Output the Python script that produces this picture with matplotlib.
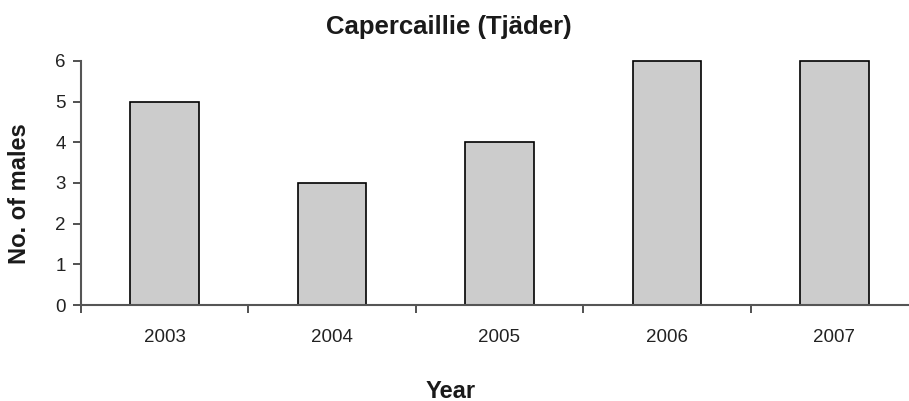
import matplotlib.pyplot as plt
import numpy as np

plt.rcParams['font.family'] = ['Liberation Sans', 'DejaVu Sans']

years = ["2003", "2004", "2005", "2006", "2007"]
males = [5, 3, 4, 6, 6]

fig = plt.figure(figsize=(9.09, 4.01), dpi=100)
# axes runs a bit past the right edge, like the original
ax = fig.add_axes([0.0891, 0.2394, 0.9208, 0.6085])

x = np.arange(len(years))
bars = ax.bar(x, males, width=0.41, color="#cccccc", edgecolor="black", linewidth=1.2)
for b in bars:
    b.set_clip_on(False)

ax.set_xlim(-0.5, len(years) - 0.5)
ax.set_ylim(0, 6)
ax.set_yticks(range(0, 7))

ax.set_xticks(x)
ax.set_xticklabels(years)
ax.set_xticks(np.arange(-0.5, len(years)), minor=True)
ax.tick_params(axis="x", which="major", length=0, pad=17.5, labelsize=13.5, colors="#222222")
ax.tick_params(axis="x", which="minor", length=6, width=1.2, direction="out", color="#333333")
ax.tick_params(axis="y", length=6, width=1.2, pad=5, labelsize=13.5, colors="#222222")
ax.tick_params(axis="y", color="#333333")

for s in ["top", "right"]:
    ax.spines[s].set_visible(False)
for s in ["left", "bottom"]:
    ax.spines[s].set_color("#555555")
    ax.spines[s].set_linewidth(1.5)

fig.text(0.494, 0.914, "Capercaillie (Tjäder)", ha="center", va="baseline",
         fontsize=18.5, fontweight="bold", color="#1a1a1a")
fig.text(0.496, 0.008, "Year", ha="center", va="baseline",
         fontsize=17, fontweight="bold", color="#1a1a1a")
fig.text(0.021, 0.516, "No. of males", ha="center", va="center", rotation=90,
         fontsize=17, fontweight="bold", color="#1a1a1a")

fig.savefig("out.png", dpi=100)
